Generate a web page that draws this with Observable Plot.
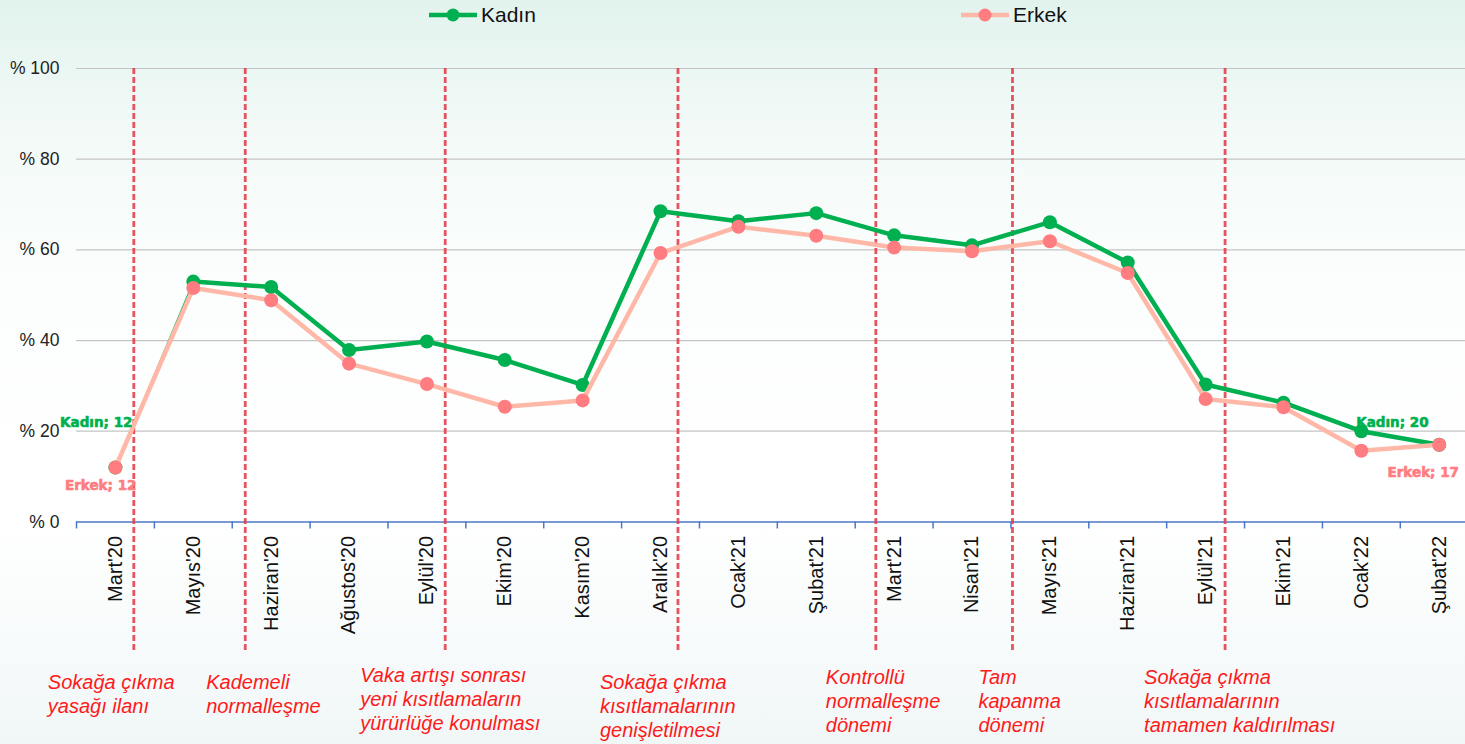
<!DOCTYPE html>
<html>
<head>
<meta charset="utf-8">
<script src="https://cdn.jsdelivr.net/npm/d3@7"></script>
<script src="https://cdn.jsdelivr.net/npm/@observablehq/plot@0.6"></script>
<style>
  html, body { margin: 0; padding: 0; }
  #wrap {
    position: relative; width: 1465px; height: 744px; overflow: hidden;
    background: linear-gradient(to bottom, #e2f3ee 0%, #f3faf8 18%, #fcfefd 40%, #ffffff 70%, #f1f7f7 100%);
    font-family: "Liberation Sans", Arial, sans-serif;
  }
  #legend { position: relative; height: 30px; width: 1465px; }
  .item { position: absolute; top: 0; height: 30px; display: flex; align-items: center; font-size: 21px; color: #111; }
  #chart svg { display: block; background: transparent; }
</style>
</head>
<body>
<div id="wrap">
  <div id="legend"></div>
  <div id="chart"></div>
</div>
<script>
// ---- data ----
const months = ["Mart'20","Mayıs'20","Haziran'20","Ağustos'20","Eylül'20","Ekim'20","Kasım'20","Aralık'20","Ocak'21","Şubat'21","Mart'21","Nisan'21","Mayıs'21","Haziran'21","Eylül'21","Ekim'21","Ocak'22","Şubat'22"];
const kadin = [12, 53.0, 51.8, 37.9, 39.8, 35.7, 30.2, 68.5, 66.3, 68.1, 63.2, 61.0, 66.1, 57.2, 30.3, 26.3, 20, 17];
const erkek = [12, 51.6, 48.9, 34.9, 30.4, 25.4, 26.8, 59.3, 65.1, 63.1, 60.5, 59.7, 61.9, 54.9, 27.1, 25.3, 15.7, 17];
const yTicks = [0, 20, 40, 60, 80, 100];
// event markers, positioned between month categories (index units)
const eventPos = [0.236, 1.667, 4.235, 7.224, 9.765, 11.52, 14.25];
const eventText = [
  "Sokağa çıkma\nyasağı ilanı",
  "Kademeli\nnormalleşme",
  "Vaka artışı sonrası\nyeni kısıtlamaların\nyürürlüğe konulması",
  "Sokağa çıkma\nkısıtlamalarının\ngenişletilmesi",
  "Kontrollü\nnormalleşme\ndönemi",
  "Tam\nkapanma\ndönemi",
  "Sokağa çıkma\nkısıtlamalarının\ntamamen kaldırılması"
];
const seriesNames = ["Kadın", "Erkek"];

// ---- styles ----
const GREEN = "#00b050";
const PINK_DOT = "#ff7c80";
const PINK_LINE = "#ffb8a8";
const RED = "#e2414e";
const noteDx = [-86, -39, -85, -78, -50, -34, -81];
const noteDy = [150, 150, 143, 150, 145, 145, 145];

const rows = months.map((m, i) => ({i, m, k: kadin[i], e: erkek[i]}));
const bounds = d3.range(months.length + 1).map(k => k - 0.5);

// legend (HTML above the svg)
const legend = document.getElementById("legend");
[[seriesNames[0], GREEN, GREEN, 428], [seriesNames[1], PINK_LINE, PINK_DOT, 960]].forEach(([name, lc, dc, left]) => {
  const d = document.createElement("div");
  d.className = "item";
  d.style.left = left + "px";
  d.innerHTML = `<svg width="51" height="30"><line x1="1" x2="49" y1="15" y2="15" stroke="${lc}" stroke-width="4.5"/><circle cx="25" cy="15" r="6.5" fill="${dc}"/></svg><span style="margin-left:2px">${name}</span>`;
  legend.appendChild(d);
});

const labelStyle = {fontSize: 13.5, fontWeight: "bold", strokeWidth: 0.6, fontFamily: "DejaVu Sans, sans-serif"};

const W = 1465, H = 714;
const plot = Plot.plot({
  width: W,
  height: H,
  marginTop: 38,
  marginLeft: 76,
  marginRight: 0,
  marginBottom: 222.6,
  style: {background: "transparent", overflow: "visible"},
  x: {domain: [-0.5, 17.5], range: [76, 76 + 77.87 * 18], axis: null},
  y: {domain: [0, 100], axis: null},
  marks: [
    Plot.gridY(yTicks.filter(d => d > 0), {stroke: "#c4c4c4", strokeOpacity: 1, strokeWidth: 1.2}),
    Plot.axisY(yTicks, {tickSize: 0, tickPadding: 17, tickFormat: d => "% " + d, fontSize: 17.5, fill: "#222", fontFamily: "Liberation Sans, Arial, sans-serif"}),
    Plot.ruleY([0], {stroke: "#4a78c8", strokeWidth: 1.5}),
    Plot.ruleX(bounds, {x: d => d, y1: 0, y2: -1.55, stroke: "#4a78c8", strokeWidth: 1.5}),
    Plot.text(months, {x: (d, i) => i, y: 0, text: d => d, rotate: -90, textAnchor: "end", lineAnchor: "middle", dy: 14, fontSize: 20, fill: "#111", fontFamily: "Liberation Sans, Arial, sans-serif"}),
    // event lines
    Plot.ruleX(eventPos, {x: d => d, y1: 100, y2: -29, stroke: RED, strokeWidth: 2.8, strokeDasharray: "6,3", strokeOpacity: 0.9}),
    // Kadın
    Plot.line(rows.filter(d => d.i <= 1), {x: "i", y: "k", stroke: GREEN, strokeWidth: 1.3}),
    Plot.line(rows.filter(d => d.i >= 1), {x: "i", y: "k", stroke: GREEN, strokeWidth: 4.5}),
    Plot.dot(rows, {x: "i", y: "k", r: 7, fill: GREEN}),
    // Erkek
    Plot.line(rows, {x: "i", y: "e", stroke: PINK_LINE, strokeWidth: 4.5}),
    Plot.dot(rows, {x: "i", y: "e", r: 7, fill: PINK_DOT}),
    // data labels
    Plot.text([rows[0]], {x: "i", y: "k", text: d => `${seriesNames[0]}; ${d.k}`, textAnchor: "end", dx: 17, dy: -45, fill: GREEN, stroke: GREEN, ...labelStyle}),
    Plot.text([rows[0]], {x: "i", y: "e", text: d => `${seriesNames[1]}; ${d.e}`, textAnchor: "end", dx: 21, dy: 18, fill: PINK_DOT, stroke: PINK_DOT, ...labelStyle}),
    Plot.text([rows[16]], {x: "i", y: "k", text: d => `${seriesNames[0]}; ${d.k}`, textAnchor: "middle", dx: 31, dy: -9, fill: GREEN, stroke: GREEN, ...labelStyle}),
    Plot.text([rows[17]], {x: "i", y: "e", text: d => `${seriesNames[1]}; ${d.e}`, textAnchor: "middle", dx: -16, dy: 28, fill: PINK_DOT, stroke: PINK_DOT, ...labelStyle}),
    // event annotations
    ...eventPos.map((p, j) => Plot.text([eventText[j]], {
      x: () => p, y: 0, text: d => d, textAnchor: "start", lineAnchor: "top",
      dx: noteDx[j], dy: noteDy[j], lineHeight: 1.2, fontSize: 20, fontStyle: "italic",
      fill: "#ff1a1a", fontFamily: "Liberation Sans, Arial, sans-serif"
    }))
  ]
});
document.getElementById("chart").appendChild(plot);
</script>
</body>
</html>
